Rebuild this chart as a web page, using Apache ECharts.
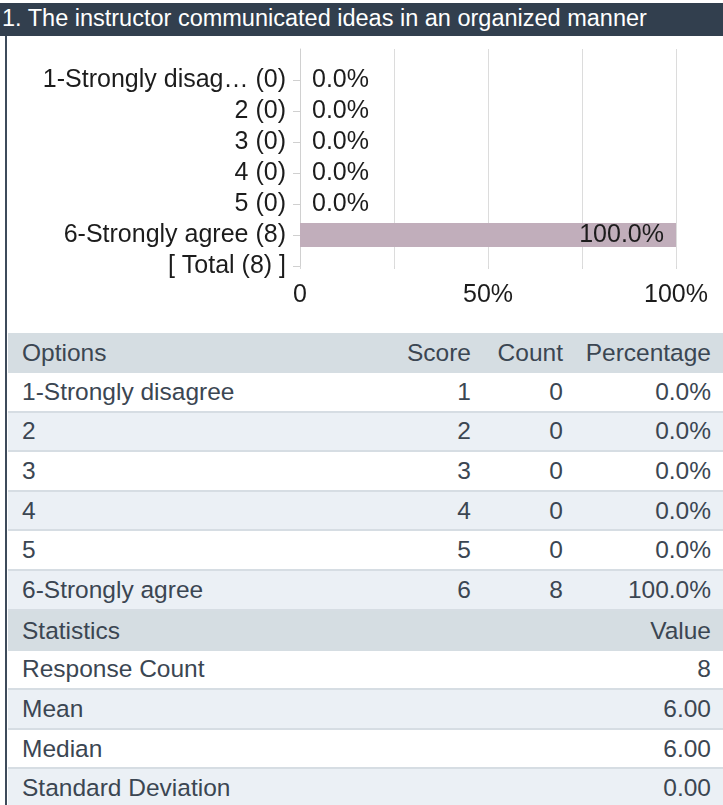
<!DOCTYPE html>
<html>
<head>
<meta charset="utf-8">
<script src="https://cdn.jsdelivr.net/npm/echarts@6/dist/echarts.min.js"></script>
<style>
  html, body { margin: 0; padding: 0; background: #fff; }
  body { width: 723px; height: 805px; position: relative; overflow: hidden;
    font-family: "Liberation Sans", Arial, sans-serif; }
  .title { position: absolute; left: 0; top: 3px; width: 723px; height: 33px;
    background: #323f4e; color: #fff; font-size: 23.5px; line-height: 31px;
    padding-left: 2px; box-sizing: border-box; white-space: nowrap; }
  .border { position: absolute; left: 5px; top: 36px; width: 2px; bottom: 0; background: #3e4b5b; }
  #chart { position: absolute; left: 8px; top: 36px; width: 715px; height: 290px; }
  table { position: absolute; left: 8px; top: 333px; width: 715px; border-collapse: collapse;
    table-layout: fixed; color: #3b4652; font-size: 24.5px; }
  td { padding: 0 12px 0 14px; height: 37.6px; border-bottom: 2px solid #d6dde3; white-space: nowrap; }
  tr.head td { background: #d5dde2; height: 40px; border-bottom: none; }
  tr.alt td { background: #ebf0f5; }
  td.r { text-align: right; padding-left: 0; }
</style>
</head>
<body>
<div class="title">1. The instructor communicated ideas in an organized manner</div>
<div class="border"></div>
<div id="chart"></div>
<table id="tbl">
  <colgroup><col style="width:392px"><col style="width:83px"><col style="width:92px"><col style="width:148px"></colgroup>
  <tbody id="body"></tbody>
</table>
<script>
const options = ['1-Strongly disagree', '2', '3', '4', '5', '6-Strongly agree']
const scores = [1, 2, 3, 4, 5, 6]
const counts = [0, 0, 0, 0, 0, 8]
const xTicks = [0, 50, 100]
const statNames = ['Response Count', 'Mean', 'Median', 'Standard Deviation']
const statValues = ['8', '6.00', '6.00', '0.00']

const total = counts.reduce((a, b) => a + b, 0)
const pct = counts.map(c => total ? c / total * 100 : 0)

function short(s) { return s.length > 16 ? s.slice(0, 16) + '…' : s }
// blank slot on top so the grid starts one row above the first category
const cats = [''].concat(options.map((o, i) => short(o) + ' (' + counts[i] + ')'), ['[ Total (' + total + ') ]'])
const barData = [null].concat(pct.map(v => ({
  value: v,
  label: v > 0 ? { position: 'insideRight', distance: 12 } : { position: 'right', distance: 12 },
})), [null])

const chart = echarts.init(document.getElementById('chart'))
chart.setOption({
  animation: false,
  textStyle: { fontFamily: 'Liberation Sans' },
  grid: { left: 292, right: 47, top: 13, height: 217 },
  xAxis: {
    type: 'value', min: 0, max: 100, interval: 25,
    axisLine: { show: false },
    axisTick: { show: true, length: 3, lineStyle: { color: '#d8d8d8' } },
    splitLine: { lineStyle: { color: '#dcdcdc' } },
    axisLabel: { fontSize: 25, color: '#1c1c1c', margin: 17,
      formatter: v => xTicks.indexOf(v) < 0 ? '' : (v === 0 ? '0' : v + '%') },
  },
  yAxis: {
    type: 'category', inverse: true, boundaryGap: false, data: cats,
    axisLine: { lineStyle: { color: '#d0d0d0' } },
    axisTick: { length: 7, lineStyle: { color: '#d0d0d0' }, interval: i => i > 0 },
    axisLabel: { interval: 0, fontSize: 25, color: '#1c1c1c', margin: 14 },
  },
  series: [{
    type: 'bar', data: barData, barWidth: 24,
    itemStyle: { color: '#c1aebb' },
    label: { show: true, fontSize: 25, color: '#1c1c1c', formatter: p => p.value.toFixed(1) + '%' },
  }],
})

const rows = []
rows.push('<tr class="head"><td>Options</td><td class="r">Score</td><td class="r">Count</td><td class="r">Percentage</td></tr>')
options.forEach((o, i) => {
  rows.push('<tr class="' + (i % 2 ? 'alt' : '') + '"><td>' + o + '</td><td class="r">' + scores[i] +
    '</td><td class="r">' + counts[i] + '</td><td class="r">' + pct[i].toFixed(1) + '%</td></tr>')
})
rows.push('<tr class="head"><td colspan="3">Statistics</td><td class="r">Value</td></tr>')
statNames.forEach((s, i) => {
  rows.push('<tr class="' + (i % 2 ? 'alt' : '') + '"><td colspan="3">' + s + '</td><td class="r">' + statValues[i] + '</td></tr>')
})
document.getElementById('body').innerHTML = rows.join('')
</script>
</body>
</html>
